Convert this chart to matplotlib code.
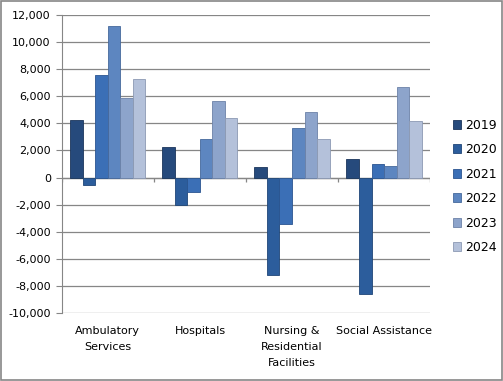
import matplotlib.pyplot as plt
import numpy as np

categories = ["Ambulatory\nServices", "Hospitals", "Nursing &\nResidential\nFacilities", "Social Assistance"]
years = ["2019", "2020", "2021", "2022", "2023", "2024"]
values = {
    "2019": [4280, 2290, 810, 1400],
    "2020": [-520, -2000, -7160, -8560],
    "2021": [7600, -1100, -3400, 1030],
    "2022": [11200, 2880, 3620, 890],
    "2023": [5900, 5680, 4800, 6700],
    "2024": [7300, 4430, 2880, 4200],
}
colors = ["#264a7c", "#2c5d9c", "#3b6fb6", "#5d86c0", "#8da4cb", "#b4c1da"]
edges = ["#1b365c", "#1f4677", "#2b5590", "#46699c", "#6c82a8", "#8c99b3"]

fig = plt.figure(figsize=(5.03, 3.81), dpi=100)
ax = fig.add_axes([0.123, 0.178, 0.732, 0.783])

x = np.arange(len(categories))
w = 0.136
for i, y in enumerate(years):
    ax.bar(x + (i - 2.5) * w, values[y], w, color=colors[i], edgecolor=edges[i],
           linewidth=0.6, label=y, zorder=3)

ax.set_xlim(-0.5, 3.5)
ax.set_ylim(-10000, 12000)
ax.set_yticks(np.arange(-10000, 12001, 2000))
ax.set_yticklabels([f"{v:,}" for v in range(-10000, 12001, 2000)], fontsize=8)
ax.yaxis.grid(True, color="#868686", linewidth=0.9, zorder=0)
ax.tick_params(axis="y", length=4, color="#868686", pad=4)

ax.set_xticks(x)
ax.set_xticklabels(categories, fontsize=8, linespacing=1.75, va="top")
ax.tick_params(axis="x", length=0, pad=9)

for s in ["top", "right", "bottom"]:
    ax.spines[s].set_visible(False)
ax.spines["left"].set_color("#868686")

# zero axis line with category separator ticks
ax.axhline(0, color="#868686", linewidth=0.9, zorder=2)
ax.vlines(np.arange(-0.5, 4.0, 1.0), -330, 0, color="#868686", linewidth=0.9, zorder=2)

leg = ax.legend(loc="center left", bbox_to_anchor=(1.0, 0.425), frameon=False,
                fontsize=9, handlelength=0.7, handleheight=0.7, labelspacing=0.92,
                handletextpad=0.3, borderaxespad=1.4)

fig.patches.append(plt.Rectangle((0.002, 0.002), 0.996, 0.995, transform=fig.transFigure,
                                 fill=False, edgecolor="#868686", linewidth=1.2))

fig.savefig("out.png", dpi=100)
